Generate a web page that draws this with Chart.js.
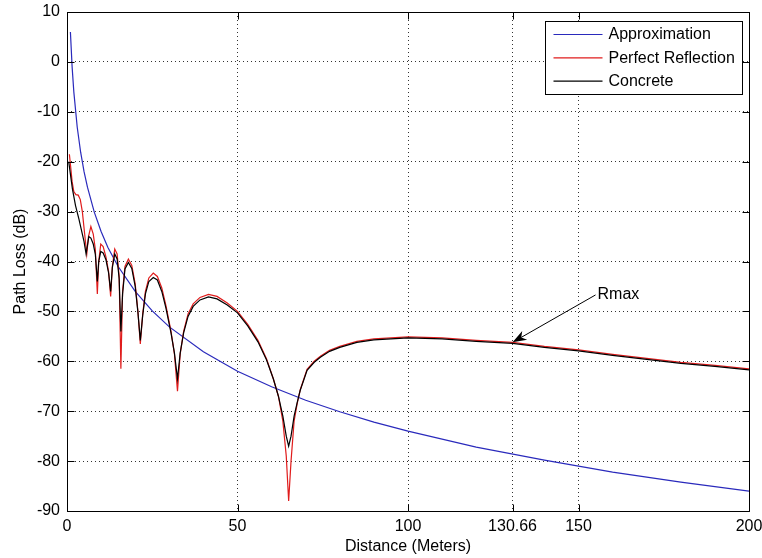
<!DOCTYPE html>
<html>
<head>
<meta charset="utf-8">
<title>Path Loss vs Distance</title>
<script src="https://cdn.jsdelivr.net/npm/chart.js@4/dist/chart.umd.min.js"></script>
<style>
  html, body { margin: 0; padding: 0; background: #ffffff; }
  #wrap { width: 762px; height: 558px; }
</style>
</head>
<body>
<div id="wrap"><canvas id="plot" width="762" height="558"></canvas></div>
<script>
// ---- data (distance in metres, path loss in dB) ----
const approxDist = [1, 1.5, 2, 3, 4, 5, 6, 8, 10, 12, 15, 20, 25, 30, 40, 50, 60, 70, 80, 90, 100, 120, 140, 160, 180, 200];
const approxLoss = [6.0, -1.0, -6.0, -13.1, -18.1, -22.0, -25.1, -30.1, -34.0, -37.2, -41.0, -46.0, -49.9, -53.1, -58.1, -62.0, -65.1, -67.8, -70.1, -72.2, -74.0, -77.2, -79.8, -82.2, -84.2, -86.0];

const perfectDist = [0.7, 1.0, 1.5, 2.0, 2.6, 3.3, 3.9, 4.5, 5.1, 5.8, 6.3, 7.0, 7.7, 8.3, 8.9, 9.3, 9.9, 10.6, 11.4, 12.2, 12.8, 13.3, 14.0, 14.7, 15.3, 15.8, 16.3, 17.0, 18.0, 19.0, 20.0, 20.8, 21.5, 22.2, 23.0, 24.0, 25.3, 26.5, 27.8, 29.0, 30.5, 31.5, 32.4, 33.2, 34.2, 35.5, 37.0, 39.0, 41.5, 44.0, 47.0, 50.0, 53.0, 56.0, 58.5, 60.5, 62.0, 63.3, 64.3, 65.0, 65.7, 66.6, 67.5, 68.4, 70.4, 72.5, 74.3, 77.0, 80.0, 85.0, 90.0, 100.0, 110.0, 120.0, 130.66, 140.0, 150.0, 160.0, 170.0, 180.0, 190.0, 200.0];
const perfectLoss = [-18.5, -20.5, -24.0, -26.0, -26.6, -26.7, -27.6, -30.0, -34.0, -38.5, -35.0, -33.0, -34.5, -37.5, -46.5, -40.0, -36.5, -37.0, -39.0, -42.0, -47.0, -41.0, -37.5, -38.5, -43.0, -61.5, -46.0, -41.0, -39.5, -40.8, -44.5, -50.0, -56.5, -50.5, -46.0, -43.3, -42.3, -43.0, -45.3, -48.8, -54.0, -58.5, -66.0, -58.5, -54.0, -50.5, -48.5, -47.2, -46.6, -47.0, -48.3, -50.0, -52.6, -55.8, -59.5, -63.5, -67.0, -72.0, -79.0, -88.0, -80.0, -72.0, -68.5, -65.7, -61.6, -60.0, -59.0, -57.8, -57.0, -56.0, -55.5, -55.1, -55.3, -55.8, -56.2, -57.0, -57.7, -58.6, -59.4, -60.2, -60.8, -61.5];

const concreteDist = [0.5, 1.0, 1.6, 2.5, 3.5, 4.5, 5.0, 5.6, 6.4, 7.0, 7.7, 8.3, 8.9, 9.3, 9.9, 10.6, 11.4, 12.2, 12.8, 13.3, 14.0, 14.7, 15.3, 15.8, 16.3, 17.0, 18.0, 19.0, 20.0, 20.8, 21.5, 22.2, 23.0, 24.0, 25.3, 26.5, 27.8, 29.0, 30.5, 31.5, 32.4, 33.2, 34.2, 35.5, 37.0, 39.0, 41.5, 44.0, 47.0, 50.0, 53.0, 56.0, 58.5, 60.5, 62.0, 63.3, 64.3, 65.0, 65.7, 66.6, 67.5, 68.4, 70.4, 72.5, 74.3, 77.0, 80.0, 85.0, 90.0, 100.0, 110.0, 120.0, 130.66, 140.0, 150.0, 160.0, 170.0, 180.0, 190.0, 200.0];
const concreteLoss = [-20.0, -22.5, -25.5, -28.8, -31.5, -34.5, -36.0, -38.5, -35.0, -35.3, -36.5, -38.5, -44.0, -40.0, -38.0, -38.3, -39.6, -42.3, -46.0, -41.2, -38.5, -39.5, -43.5, -54.0, -46.5, -41.5, -40.2, -41.4, -45.0, -50.2, -55.8, -50.8, -46.5, -44.0, -43.2, -43.7, -46.0, -49.3, -54.3, -58.3, -63.5, -58.3, -54.3, -51.0, -49.0, -47.7, -47.1, -47.5, -48.7, -50.3, -52.9, -56.1, -59.7, -63.5, -67.0, -71.0, -75.0, -77.0, -75.0, -71.0, -68.3, -65.8, -61.8, -60.2, -59.2, -58.0, -57.2, -56.2, -55.7, -55.3, -55.5, -56.0, -56.4, -57.2, -57.9, -58.8, -59.6, -60.4, -61.0, -61.7];

const seriesNames = ['Approximation', 'Perfect Reflection', 'Concrete'];
const xTickValues = [0, 50, 100, 130.66, 150, 200];
const yTickValues = [-90, -80, -70, -60, -50, -40, -30, -20, -10, 0, 10];

// Rmax marker: arrow from the label to the curve at the maximum range
const rmaxDist = 130.66;
const rmaxLoss = -56.2;
const rmaxLabelDist = 155;
const rmaxLabelLoss = -46.7;
const rmaxText = 'Rmax';

// ---- styling ----
const FONT = "'Liberation Sans', Arial, Helvetica, sans-serif";
const seriesColors = ['#2a2abc', '#e01c1c', '#000000'];

function toPoints(xs, ys) {
  return xs.map((x, i) => ({ x: x, y: ys[i] }));
}

// Frame with inward tick marks on all four sides, the Rmax arrow and the legend box.
const axesDecor = {
  id: 'axesDecor',
  afterDraw(chart) {
    const { ctx, chartArea: a, scales } = chart;
    const xs = scales.x, ys = scales.y;
    const L = Math.round(a.left) + 0.5, R = Math.round(a.right) + 0.5;
    const T = Math.round(a.top) + 0.5, B = Math.round(a.bottom) + 0.5;
    const tickLen = 7;
    ctx.save();
    ctx.strokeStyle = '#000';
    ctx.lineWidth = 1;
    ctx.setLineDash([]);
    ctx.beginPath();
    ctx.rect(L, T, R - L, B - T);
    // x ticks (bottom and top, pointing inward)
    xTickValues.forEach(v => {
      const px = Math.round(xs.getPixelForValue(v)) + 0.5;
      ctx.moveTo(px, B); ctx.lineTo(px, B - tickLen);
      ctx.moveTo(px, T); ctx.lineTo(px, T + tickLen);
    });
    // y ticks (left and right, pointing inward)
    yTickValues.forEach(v => {
      const py = Math.round(ys.getPixelForValue(v)) + 0.5;
      ctx.moveTo(L, py); ctx.lineTo(L + tickLen, py);
      ctx.moveTo(R, py); ctx.lineTo(R - tickLen, py);
    });
    ctx.stroke();

    // Rmax annotation arrow
    const tx = xs.getPixelForValue(rmaxDist), ty = ys.getPixelForValue(rmaxLoss);
    const sx = xs.getPixelForValue(rmaxLabelDist), sy = ys.getPixelForValue(rmaxLabelLoss);
    const ang = Math.atan2(ty - sy, tx - sx);
    const headLen = 14, headHalf = 5, notch = 4;
    const bx = tx - headLen * Math.cos(ang), by = ty - headLen * Math.sin(ang);
    ctx.beginPath();
    ctx.moveTo(sx, sy);
    ctx.lineTo(bx + notch * Math.cos(ang), by + notch * Math.sin(ang));
    ctx.stroke();
    const nx = -Math.sin(ang), ny = Math.cos(ang);
    ctx.beginPath();
    ctx.moveTo(tx, ty);
    ctx.lineTo(bx + headHalf * nx, by + headHalf * ny);
    ctx.lineTo(bx + notch * Math.cos(ang), by + notch * Math.sin(ang));
    ctx.lineTo(bx - headHalf * nx, by - headHalf * ny);
    ctx.closePath();
    ctx.fillStyle = '#000';
    ctx.fill();
    ctx.font = '16px ' + FONT;
    ctx.textBaseline = 'middle';
    ctx.textAlign = 'left';
    ctx.fillText(rmaxText, sx + 2, sy);

    // legend box in the upper right corner of the plot
    const bw = 197, bh = 73;
    const lx = Math.round(a.right - 204) + 0.5, ly = Math.round(a.top + 9) + 0.5;
    ctx.fillStyle = '#fff';
    ctx.fillRect(lx, ly, bw, bh);
    ctx.strokeStyle = '#000';
    ctx.strokeRect(lx, ly, bw, bh);
    chart.data.datasets.forEach((ds, i) => {
      const rowY = ly + 13 + i * 23.3;
      ctx.beginPath();
      ctx.strokeStyle = ds.borderColor;
      ctx.lineWidth = 1.2;
      ctx.moveTo(lx + 8, rowY);
      ctx.lineTo(lx + 57, rowY);
      ctx.stroke();
      ctx.fillStyle = '#000';
      ctx.fillText(ds.label, lx + 63, rowY + 0.5);
    });
    ctx.restore();
  }
};

const tickFont = { family: FONT, size: 16 };

new Chart(document.getElementById('plot'), {
  type: 'line',
  data: {
    datasets: [
      { label: seriesNames[0], data: toPoints(approxDist, approxLoss), borderColor: seriesColors[0], order: 2 },
      { label: seriesNames[1], data: toPoints(perfectDist, perfectLoss), borderColor: seriesColors[1], order: 1 },
      { label: seriesNames[2], data: toPoints(concreteDist, concreteLoss), borderColor: seriesColors[2], order: 0 }
    ]
  },
  options: {
    responsive: false,
    animation: false,
    devicePixelRatio: 1,
    layout: { padding: { top: 12, right: 13, left: 0, bottom: 0 } },
    elements: {
      point: { radius: 0, hoverRadius: 0 },
      line: { tension: 0, borderWidth: 1.2, fill: false }
    },
    plugins: {
      legend: { display: false },
      tooltip: { enabled: false }
    },
    scales: {
      x: {
        type: 'linear',
        min: 0,
        max: 200,
        afterBuildTicks: s => { s.ticks = xTickValues.map(v => ({ value: v })); },
        afterFit: s => { s.height = 47; s.paddingLeft = 0; s.paddingRight = 0; },
        ticks: { color: '#000', font: tickFont, padding: 6, maxRotation: 0, autoSkip: false, callback: v => String(v) },
        grid: { color: '#333', lineWidth: 1, drawTicks: false },
        border: { display: false, dash: [1, 3] },
        title: { display: true, text: 'Distance (Meters)', color: '#000', font: tickFont, padding: { top: 0, bottom: 2 } }
      },
      y: {
        type: 'linear',
        min: -90,
        max: 10,
        afterBuildTicks: s => { s.ticks = yTickValues.map(v => ({ value: v })); },
        afterFit: s => { s.width = 67; s.paddingTop = 0; s.paddingBottom = 0; },
        ticks: { color: '#000', font: tickFont, padding: 7, autoSkip: false, callback: v => String(v) },
        grid: { color: '#333', lineWidth: 1, drawTicks: false },
        border: { display: false, dash: [1, 3] },
        title: { display: true, text: 'Path Loss (dB)', color: '#000', font: tickFont, padding: { top: 11, bottom: 0 } }
      }
    }
  },
  plugins: [axesDecor]
});
</script>
</body>
</html>
